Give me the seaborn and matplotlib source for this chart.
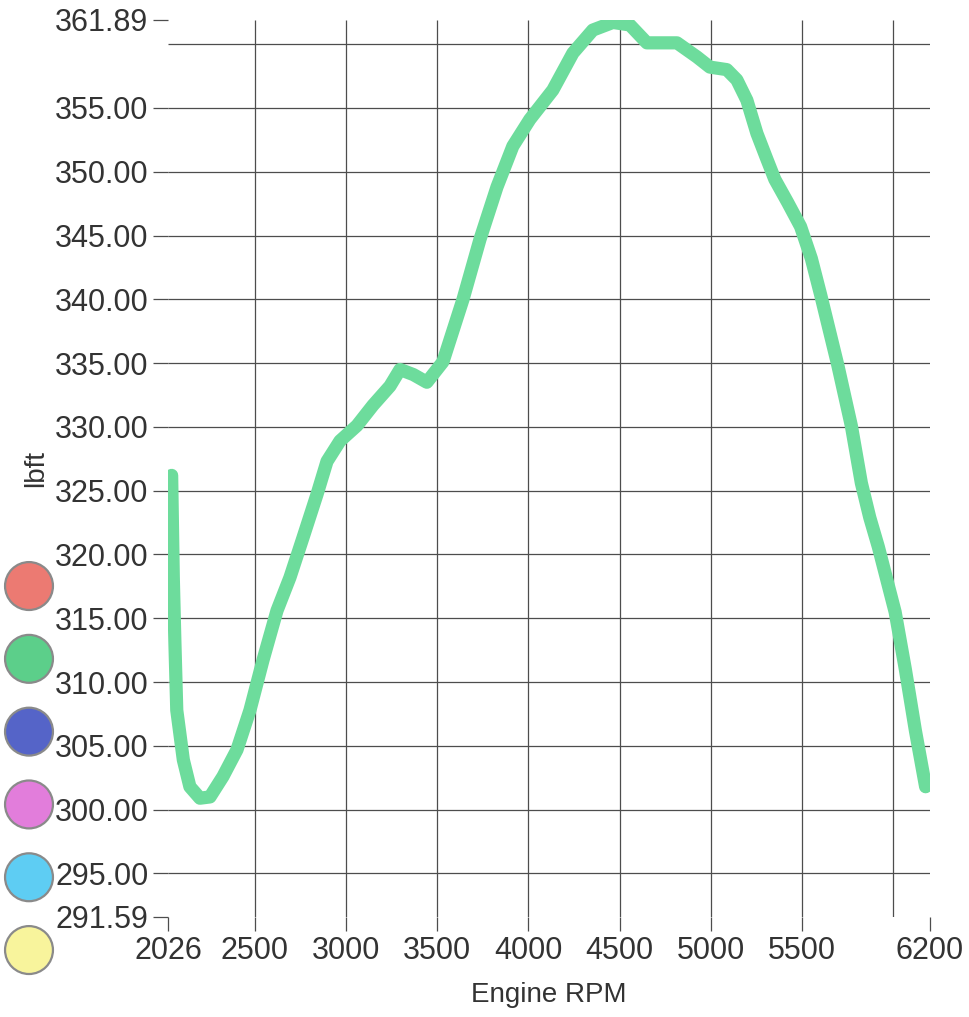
import matplotlib
matplotlib.use("Agg")
import matplotlib.pyplot as plt
import seaborn as sns

# torque curve
rpm = [2046, 2055, 2064, 2074, 2110, 2146, 2201, 2256, 2327, 2404, 2475, 2546,
       2623, 2694, 2765, 2842, 2897, 2968, 3061, 3149, 3242, 3297, 3370, 3444,
       3532, 3642, 3735, 3828, 3915, 4008, 4134, 4244, 4353, 4463, 4556, 4649,
       4814, 4923, 4994, 5087, 5142, 5197, 5252, 5306, 5350, 5420, 5491, 5550,
       5602, 5694, 5769, 5824, 5870, 5917, 6009, 6065, 6120, 6176]
lbft = [326.2, 318.2, 313.0, 307.8, 303.9, 301.8, 300.9, 301.0, 302.6, 304.7, 307.8, 311.7,
        315.6, 318.2, 321.3, 324.7, 327.3, 328.9, 330.1, 331.7, 333.2, 334.5, 334.1, 333.5,
        335.1, 340.0, 344.7, 348.8, 352.0, 354.1, 356.4, 359.3, 361.1, 361.7, 361.5, 360.1,
        360.1, 359.0, 358.2, 358.0, 357.2, 355.6, 353.0, 351.0, 349.4, 347.6, 345.7, 343.2,
        340.3, 334.9, 330.1, 325.6, 322.9, 320.6, 315.5, 311.0, 306.2, 301.8]

x_ticks = [2026, 2500, 3000, 3500, 4000, 4500, 5000, 5500, 6200]
y_ticks = [291.59, 295, 300, 305, 310, 315, 320, 325, 330, 335, 340, 345, 350, 355, 361.89]
x_grid = [2500, 3000, 3500, 4000, 4500, 5000, 5500, 6000]
y_grid = [295, 300, 305, 310, 315, 320, 325, 330, 335, 340, 345, 350, 355, 360]

run_names = ["run1", "run2", "run3", "run4", "run5", "run6"]
run_colors = ["#ec7a72", "#5ccf8a", "#5564c8", "#e27ddb", "#5ecdf3", "#f8f49c"]

sns.set_style("white")
plt.rcParams['font.family'] = ['Liberation Sans', 'DejaVu Sans']

fig = plt.figure(figsize=(9.7, 10.17), dpi=100)
ax = fig.add_axes([168 / 970, 1 - 917 / 1017, 762 / 970, 897 / 1017])

sns.lineplot(x=rpm, y=lbft, ax=ax, color="#6ddc9c", linewidth=9.5, sort=False,
             solid_capstyle="round", solid_joinstyle="round", zorder=3)

ax.set_xlim(2026, 6200)
ax.set_ylim(291.59, 361.89)

# grid lines (only at the round numbers, not at the axis ends)
ax.vlines(x_grid, 291.59, 361.89, color="#4d4d4d", linewidth=0.9, zorder=1)
ax.hlines(y_grid, 2026, 6200, color="#4d4d4d", linewidth=0.9, zorder=1)

ax.set_xticks(x_ticks)
ax.set_xticklabels([str(t) for t in x_ticks])
ax.set_yticks(y_ticks)
ax.set_yticklabels([f"{t:.2f}" for t in y_ticks])
ax.grid(False)
for s in ax.spines.values():
    s.set_visible(False)

ax.tick_params(axis="both", left=True, bottom=True, labelsize=22,
               labelcolor="#333333", color="#4d4d4d", width=0.9)
ax.tick_params(axis="y", length=11, pad=3)
ax.tick_params(axis="x", length=10, pad=4)

ax.set_xlabel("Engine RPM", fontsize=20, color="#333333")
ax.set_ylabel("lbft", fontsize=20, color="#333333")
ax.xaxis.set_label_coords(0.5, -0.072)
ax.yaxis.set_label_coords(-0.156, 0.5)

# colour key circles down the left edge
ax2 = fig.add_axes([0, 1 - 985 / 1017, 58 / 970, 435 / 1017])
sns.scatterplot(x=[0] * len(run_names), y=list(range(len(run_names))), hue=run_names,
                palette=run_colors, s=1190, edgecolor="#8a8a8a", linewidth=1.6,
                legend=False, ax=ax2, clip_on=False)
ax2.set_xlim(-1, 1)
ax2.set_ylim(5.48, -0.495)
ax2.axis("off")

fig.savefig("out.png", dpi=100)
